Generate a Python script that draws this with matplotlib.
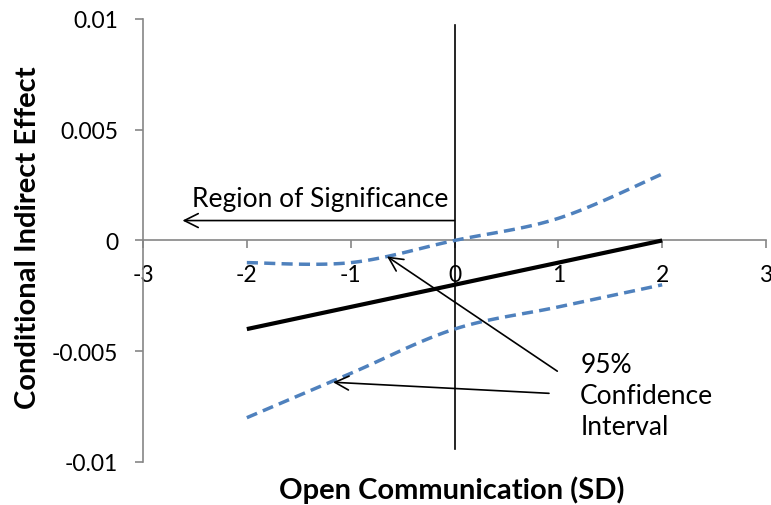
import numpy as np
import matplotlib
matplotlib.use("Agg")
import matplotlib.pyplot as plt

plt.rcParams['font.family'] = ['Lato', 'DejaVu Sans']
plt.rcParams['lines.scale_dashes'] = False

x_vals = [-2, -1, 0, 1, 2]
effect = [-0.004, -0.003, -0.002, -0.001, 0.0]
ci_upper = [-0.001, -0.001, 0.0, 0.001, 0.003]
ci_lower = [-0.008, -0.006, -0.004, -0.003, -0.002]
x_ticks = [-3, -2, -1, 0, 1, 2, 3]
y_ticks = [-0.01, -0.005, 0, 0.005, 0.01]
y_tick_labels = ['-0.01', '-0.005', '0', '0.005', '0.01']


def smooth(xs, ys, n=30):
    """Catmull-Rom style smoothing, like Excel's smoothed line rendering."""
    xs = np.asarray(xs, float); ys = np.asarray(ys, float)
    P = np.column_stack([xs, ys])
    P = np.vstack([P[0], P, P[-1]])
    out = []
    for i in range(1, len(P) - 2):
        p0, p1, p2, p3 = P[i - 1], P[i], P[i + 1], P[i + 2]
        t = np.linspace(0, 1, n)[:, None]
        seg = 0.5 * ((2 * p1) + (-p0 + p2) * t + (2 * p0 - 5 * p1 + 4 * p2 - p3) * t ** 2
                     + (-p0 + 3 * p1 - 3 * p2 + p3) * t ** 3)
        out.append(seg if i == 1 else seg[1:])
    out = np.vstack(out)
    return out[:, 0], out[:, 1]


fig = plt.figure(figsize=(7.71, 5.06), dpi=100)
ax = fig.add_axes([0.1855, 0.085, 0.808, 0.8755])

blue = '#4F81BD'
ux, uy = smooth(x_vals, ci_upper)
lx, ly = smooth(x_vals, ci_lower)
ax.plot(ux, uy, color=blue, lw=2.5, dashes=(8, 4.5), zorder=3)
ax.plot(lx, ly, color=blue, lw=2.5, dashes=(8, 4.5), zorder=3)
ax.plot(x_vals, effect, color='black', lw=3, solid_capstyle='butt', zorder=3)

ax.set_xlim(-3, 3)
ax.set_ylim(-0.01, 0.01)
ax.set_xticks(x_ticks)
ax.set_xticklabels([str(v) for v in x_ticks])
ax.set_yticks(y_ticks)
ax.set_yticklabels(y_tick_labels)

gray = '#868686'
ax.spines['bottom'].set_position(('data', 0))
ax.spines['top'].set_visible(False)
ax.spines['right'].set_visible(False)
for s in ['left', 'bottom']:
    ax.spines[s].set_color(gray)
    ax.spines[s].set_linewidth(1.2)
ax.tick_params(axis='x', direction='out', length=6, width=1.2, color=gray, pad=11,
               labelsize=16.5)
ax.tick_params(axis='y', direction='out', length=6, width=1.2, color=gray, pad=12,
               labelsize=16.5)

fig.text(452 / 771, 1 - 490 / 506, 'Open Communication (SD)', fontsize=21,
         fontweight='bold', ha='center', va='center')
fig.text(28 / 771, 1 - 238 / 506, 'Conditional Indirect Effect', fontsize=21,
         fontweight='bold', ha='center', va='center', rotation=90)

# vertical reference line at x = 0
ax.plot([0, 0], [0.00973, -0.0094], color='black', lw=1.2, zorder=2)

# Region of significance arrow
ax.annotate('', xy=(-2.62, 0.0009), xytext=(0, 0.0009),
            arrowprops=dict(arrowstyle='->', color='black', lw=1.2,
                            mutation_scale=25, shrinkA=0, shrinkB=0))
ax.text(-2.53, 0.0019, 'Region of Significance', fontsize=19, va='center', ha='left')

# confidence interval arrows
ax.annotate('', xy=(-0.65, -0.00072), xytext=(0.99, -0.0059),
            arrowprops=dict(arrowstyle='->', color='black', lw=1.2,
                            mutation_scale=25, shrinkA=0, shrinkB=0))
ax.annotate('', xy=(-1.17, -0.0064), xytext=(0.91, -0.0069),
            arrowprops=dict(arrowstyle='->', color='black', lw=1.2,
                            mutation_scale=25, shrinkA=0, shrinkB=0))
ax.text(1.21, -0.0070, '95%\nConfidence\nInterval', fontsize=19, va='center', ha='left',
        linespacing=1.32)

fig.savefig('out.png', dpi=100)
